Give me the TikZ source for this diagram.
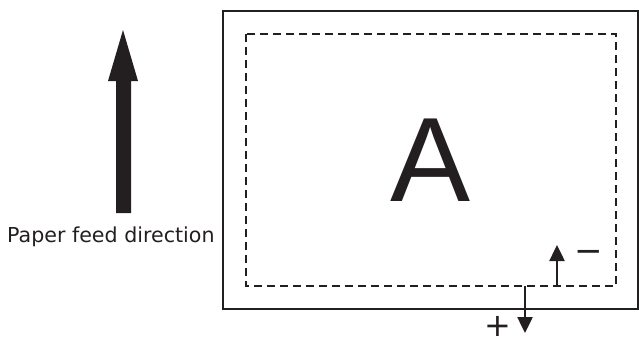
\documentclass[tikz,border=0pt]{standalone}
\usepackage{fontspec}
\setmainfont{DejaVu Sans}
\newfontfamily\afont{Liberation Sans}
\usetikzlibrary{arrows.meta}
\definecolor{ink}{HTML}{231F20}
\tikzset{
  frame/.style={draw=ink, line width=2.4pt},
  dashframe/.style={draw=ink, line width=2.2pt, dash pattern=on 8pt off 5pt},
  smallarrow/.style={draw=ink, line width=2.5pt, -{Triangle[width=15pt,length=16pt]}},
  lbl/.style={text=ink, inner sep=0pt}
}
\begin{document}
\begin{tikzpicture}[x=1pt,y=-1pt]
\useasboundingbox (0,0) rectangle (639,343);
% big arrow
\fill[ink] (116,213) -- (116,81) -- (108,81) -- (123,30) -- (138,81) -- (131,81) -- (131,213) -- cycle;
\node[lbl, anchor=base west, font=\fontsize{20.6}{24}\selectfont] (feed) at (7,242) {Paper feed direction};
% frames
\draw[frame] (223,11) rectangle (638,309);
\draw[dashframe] (246,34) rectangle (616,286);
\node[lbl, font=\afont\fontsize{120}{120}\selectfont] (A) at (431,160) {A};
% arrows
\coordinate (up0) at (557,287);
\coordinate (up1) at (557,245);
\coordinate (dn0) at (525,286);
\coordinate (dn1) at (525,333);
\draw[smallarrow] (up0) -- (up1);
\draw[smallarrow] (dn0) -- (dn1);
\node[lbl, font=\fontsize{34}{34}\selectfont] (minus) at (589,256) {\char"2212};
\node[lbl, font=\fontsize{32}{32}\selectfont] (plus) at (498,326) {+};
\end{tikzpicture}
\end{document}
